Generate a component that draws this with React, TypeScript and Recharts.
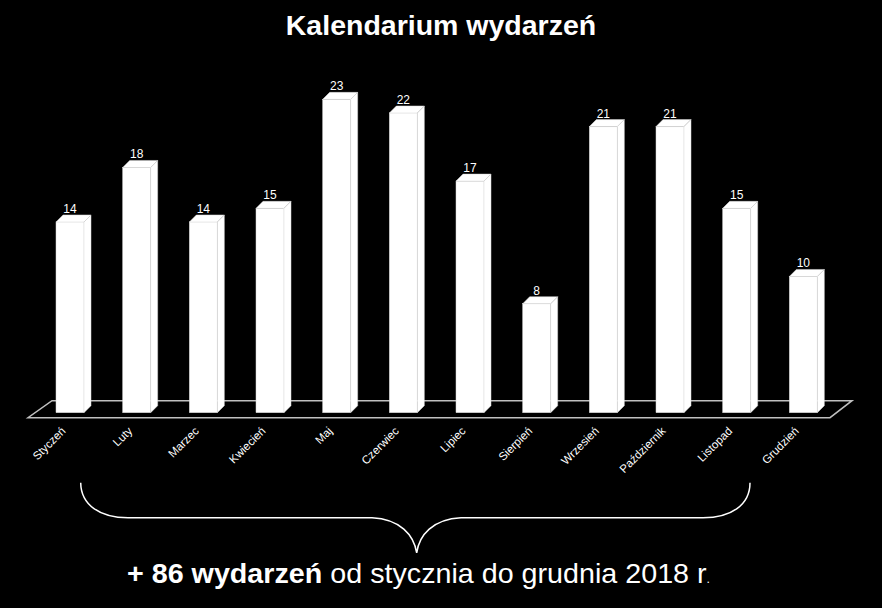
import React from 'react';
import { BarChart, Bar, XAxis, YAxis, ReferenceArea } from 'recharts';

const months = [
  'Styczeń', 'Luty', 'Marzec', 'Kwiecień', 'Maj', 'Czerwiec',
  'Lipiec', 'Sierpień', 'Wrzesień', 'Październik', 'Listopad', 'Grudzień',
];
const events = [14, 18, 14, 15, 23, 22, 17, 8, 21, 21, 15, 10];
const yDomain = [0, 25];

const data = months.map((month, i) => ({ month, events: events[i] }));

const FONT = '"Liberation Sans", Arial, sans-serif';
const DEPTH = 7; // 3d depth of each bar
const SHIFT = 12; // bars stand in the middle of the floor depth

const BarShape = (props: any) => {
  const { x, y, width, height } = props;
  const value = props.payload ? props.payload.events : props.value;
  const fx = x + SHIFT;
  const fw = width - DEPTH;
  const bottom = y + height;
  const top = `${fx},${y} ${fx + DEPTH},${y - DEPTH} ${fx + fw + DEPTH},${y - DEPTH} ${fx + fw},${y}`;
  const side = `${fx + fw},${y} ${fx + fw + DEPTH},${y - DEPTH} ${fx + fw + DEPTH},${bottom - DEPTH} ${fx + fw},${bottom}`;
  return (
    <g>
      <rect x={fx} y={y} width={fw} height={height} fill="#fff" stroke="#d8d8d8" strokeWidth={0.5} />
      <polygon points={top} fill="#fff" stroke="#d8d8d8" strokeWidth={0.5} />
      <polygon points={side} fill="#fff" stroke="#d8d8d8" strokeWidth={0.5} />
      <text
        x={fx + fw / 2}
        y={y - DEPTH - 2}
        textAnchor="middle"
        fill="#fff"
        fontSize={12}
        fontFamily={FONT}
      >
        {value}
      </text>
    </g>
  );
};

const Floor = (props: any) => {
  const { x, y, width, height } = props;
  const base = y + height;
  const pts = `${x},${base + 5} ${x + width + 2},${base + 5} ${x + width + 24},${base - 12} ${x + 24},${base - 12}`;
  return <polygon points={pts} fill="#000" stroke="#c0c0c0" strokeWidth={1.5} />;
};

const MonthTick = (props: any) => {
  const { x, y, payload } = props;
  const tx = x + 5;
  const ty = y + 19;
  return (
    <text
      x={tx}
      y={ty}
      textAnchor="end"
      fill="#fff"
      fontSize={11.5}
      fontFamily={FONT}
      transform={`rotate(-45 ${tx} ${ty})`}
    >
      {payload.value}
    </text>
  );
};

export default function App() {
  return (
    <div style={{ position: 'absolute', left: 0, top: 0, width: 882, height: 608, background: '#000' }}>
      <BarChart
        width={882}
        height={608}
        data={data}
        margin={{ top: 72.1, right: 54, left: 28, bottom: 165.3 }}
        barSize={35}
      >
        <XAxis
          dataKey="month"
          height={30}
          axisLine={false}
          tickLine={false}
          tickSize={0}
          tickMargin={0}
          interval={0}
          tick={<MonthTick />}
        />
        <YAxis hide domain={yDomain} />
        <ReferenceArea y1={0} y2={25} shape={<Floor />} ifOverflow="visible" />
        <Bar dataKey="events" shape={<BarShape />} isAnimationActive={false} />
      </BarChart>
      <svg width={882} height={608} style={{ position: 'absolute', left: 0, top: 0, pointerEvents: 'none' }}>
        <text x={441} y={35} textAnchor="middle" fill="#fff" fontSize={28.5} fontWeight="bold" fontFamily={FONT}>
          Kalendarium wydarzeń
        </text>
        <path
          d="M80.7,482.7 C81,505 100,517.7 128,517.7 L372,517.7 C400,519 414,535 416.7,553 C419,535 433,519 461,517.7 L703,517.7 C731,517.7 750,505 750,482.7"
          fill="none"
          stroke="#fff"
          strokeWidth={1.5}
        />
        <text
          x={418.5}
          y={583}
          textAnchor="middle"
          fill="#fff"
          fontSize={28}
          fontFamily={FONT}
          textLength={583}
          lengthAdjust="spacingAndGlyphs"
        >
          <tspan fontWeight="bold">+ 86 wydarzeń</tspan> od stycznia do grudnia 2018 r<tspan fontSize={12}>.</tspan>
        </text>
      </svg>
    </div>
  );
}
